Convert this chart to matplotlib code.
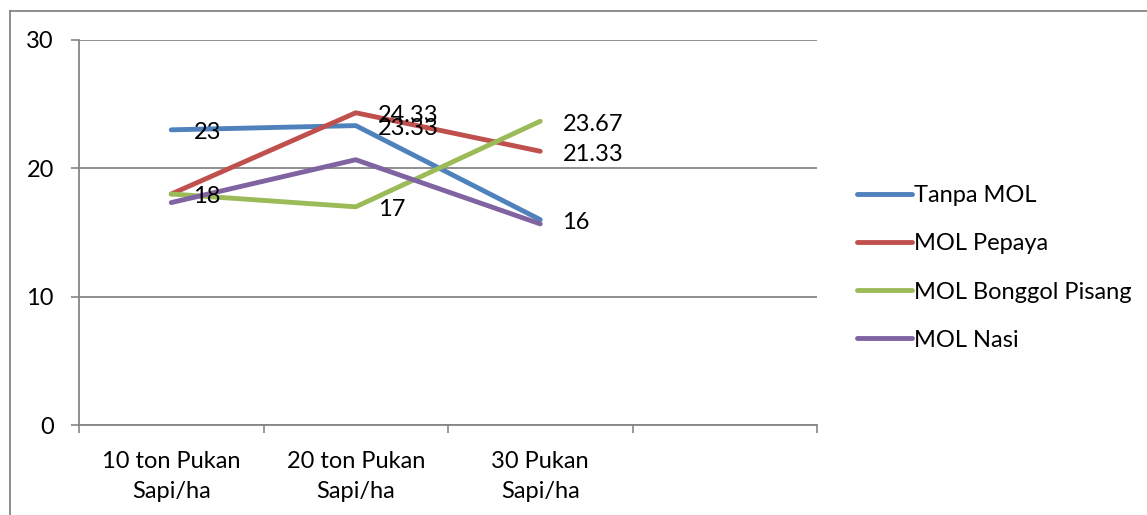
import matplotlib.pyplot as plt
from matplotlib.lines import Line2D

# data
categories = ["10 ton Pukan\nSapi/ha", "20 ton Pukan\nSapi/ha", "30 Pukan\nSapi/ha"]
series_names = ["Tanpa MOL", "MOL Pepaya", "MOL Bonggol Pisang", "MOL Nasi"]
tanpa_mol = [23, 23.33, 16]
mol_pepaya = [18, 24.33, 21.33]
mol_bonggol = [18, 17, 23.67]
mol_nasi = [17.33, 20.67, 15.67]
colors = ["#4F81BD", "#C0504D", "#9BBB59", "#8064A2"]

# labels that show up on the chart: (series index, point index, text)
shown_labels = [
    (0, 0, "23"), (0, 1, "23.33"), (0, 2, "16"),
    (1, 1, "24.33"), (1, 2, "21.33"),
    (2, 0, "18"), (2, 1, "17"), (2, 2, "23.67"),
]

plt.rcParams['font.family'] = ['Lato', 'DejaVu Sans']
grey = "#868686"
fs = 17

fig = plt.figure(figsize=(11.47, 5.15), dpi=100)
ax = fig.add_axes([79 / 1147, 1 - 425 / 515, (817 - 79) / 1147, (425 - 40) / 515])

all_series = [tanpa_mol, mol_pepaya, mol_bonggol, mol_nasi]
x = list(range(len(categories)))
for name, vals, c in zip(series_names, all_series, colors):
    ax.plot(x, vals, color=c, lw=3.5, solid_capstyle='round', label=name)

for si, pi, txt in shown_labels:
    ax.annotate(txt, (x[pi], all_series[si][pi]), xytext=(16, -2),
                textcoords='offset points', ha='left', va='center',
                fontsize=fs, color='black')

ax.set_xlim(-0.5, 3.5)
ax.set_ylim(0, 30)
ax.set_yticks([0, 10, 20, 30])
ax.yaxis.grid(True, color=grey, lw=1.3)
ax.set_axisbelow(True)
ax.tick_params(axis='y', length=6, width=1.2, color=grey, pad=12, labelsize=fs)

ax.set_xticks([-0.5, 0.5, 1.5, 2.5, 3.5])
ax.set_xticklabels([])
ax.set_xticks(x, minor=True)
ax.set_xticklabels(categories, minor=True, fontsize=fs, linespacing=1.5)
ax.tick_params(axis='x', which='major', length=6, width=1.2, color=grey)
ax.tick_params(axis='x', which='minor', length=0, pad=19)

for s in ['top', 'right']:
    ax.spines[s].set_visible(False)
for s in ['left', 'bottom']:
    ax.spines[s].set_color(grey)
    ax.spines[s].set_linewidth(1.3)

leg = fig.legend(loc='upper left', bbox_to_anchor=(836 / 1147, 1 - 164 / 515),
                 frameon=False, fontsize=fs, handlelength=2.3, handletextpad=0.1,
                 labelspacing=1.15)

# outer chart border
fig.add_artist(Line2D([10 / 1147, 10 / 1147], [0, 1 - 11 / 515], color=grey, lw=1.3))
fig.add_artist(Line2D([10 / 1147, 1], [1 - 11 / 515, 1 - 11 / 515], color=grey, lw=1.3))

fig.savefig("out.png", dpi=100)
